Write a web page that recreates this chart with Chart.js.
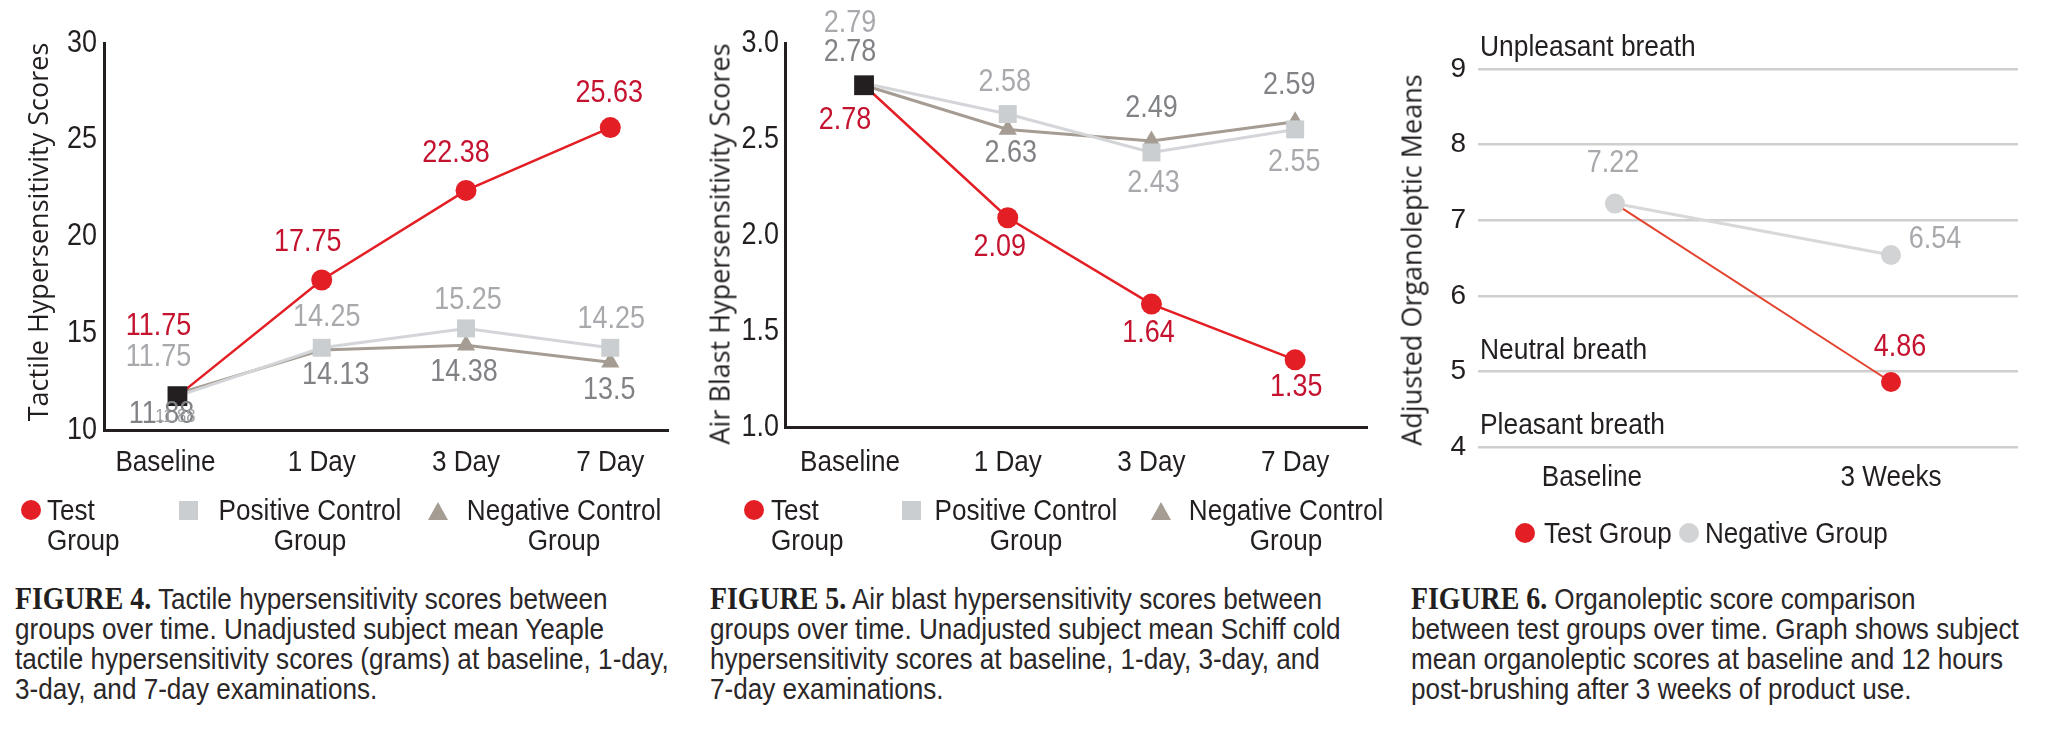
<!DOCTYPE html>
<html>
<head>
<meta charset="utf-8">
<title>Figures 4-6</title>
<script src="https://cdn.jsdelivr.net/npm/chart.js@4.4.1/dist/chart.umd.min.js"></script>
<style>
  html, body { margin:0; padding:0; background:#ffffff; }
  body { width:2048px; height:737px; position:relative; overflow:hidden; color:#231f20;
         font-family:"Liberation Sans", Arial, sans-serif; }
  canvas { position:absolute; top:0; }
  .n { transform:scaleX(0.87); transform-origin:0 0; white-space:nowrap; }
  .lg { position:absolute; top:495px; font-size:30px; line-height:30px; white-space:nowrap; color:#231f20;
        transform:scaleX(0.87); transform-origin:0 0; }
  .lg.c { text-align:center; transform:translateX(-50%) scaleX(0.87); transform-origin:50% 0; }
  .mk { position:absolute; }
  .cap { position:absolute; top:583px; font-size:30px; line-height:30px; color:#2b2728; }
  .cap .n { display:block; }
  .cap b { font-family:"Liberation Serif", serif; font-weight:700; font-size:32px; color:#231f20; }
  .yt { position:absolute; font-family:"Open Sans","Noto Sans",sans-serif; font-size:27px; line-height:1;
        white-space:nowrap; color:#231f20; transform:translate(-50%,-50%) rotate(-90deg); }
</style>
</head>
<body>
<canvas id="fig4" width="690" height="500" style="left:0px"></canvas>
<canvas id="fig5" width="700" height="500" style="left:690px"></canvas>
<canvas id="fig6" width="658" height="500" style="left:1390px"></canvas>

<!-- Axis titles -->
<div class="yt" style="left:37px;top:232px">Tactile Hypersensitivity Scores</div>
<div class="yt" style="left:719px;top:244px">Air Blast Hypersensitivity Scores</div>
<div class="yt" style="left:1411px;top:260px">Adjusted Organoleptic Means</div>

<!-- Figure 4 legend -->
<div class="mk" style="left:21px;top:500px;width:20px;height:20px;border-radius:50%;background:#e31e24"></div>
<div class="lg" style="left:47px">Test<br>Group</div>
<div class="mk" style="left:179px;top:501px;width:19px;height:19px;background:#cbced1"></div>
<div class="lg c" style="left:310px">Positive Control<br>Group</div>
<svg class="mk" style="left:428px;top:502px" width="20" height="18"><polygon points="10,0 20,18 0,18" fill="#a59c93"/></svg>
<div class="lg c" style="left:564px">Negative Control<br>Group</div>

<!-- Figure 5 legend -->
<div class="mk" style="left:744px;top:500px;width:20px;height:20px;border-radius:50%;background:#e31e24"></div>
<div class="lg" style="left:771px">Test<br>Group</div>
<div class="mk" style="left:902px;top:501px;width:19px;height:19px;background:#cbced1"></div>
<div class="lg c" style="left:1026px">Positive Control<br>Group</div>
<svg class="mk" style="left:1151px;top:502px" width="20" height="18"><polygon points="10,0 20,18 0,18" fill="#a59c93"/></svg>
<div class="lg c" style="left:1286px">Negative Control<br>Group</div>

<!-- Figure 6 legend -->
<div class="mk" style="left:1515px;top:523px;width:20px;height:20px;border-radius:50%;background:#e31e24"></div>
<div class="lg" style="left:1544px;top:518px">Test Group</div>
<div class="mk" style="left:1679px;top:523px;width:20px;height:20px;border-radius:50%;background:#d1d3d4"></div>
<div class="lg" style="left:1705px;top:518px">Negative Group</div>

<!-- Captions -->
<div class="cap" style="left:15px">
  <div class="n"><b>FIGURE 4.</b> Tactile hypersensitivity scores between</div>
  <div class="n">groups over time. Unadjusted subject mean Yeaple</div>
  <div class="n">tactile hypersensitivity scores (grams) at baseline, 1-day,</div>
  <div class="n">3-day, and 7-day examinations.</div>
</div>
<div class="cap" style="left:710px">
  <div class="n"><b>FIGURE 5.</b> Air blast hypersensitivity scores between</div>
  <div class="n">groups over time. Unadjusted subject mean Schiff cold</div>
  <div class="n">hypersensitivity scores at baseline, 1-day, 3-day, and</div>
  <div class="n">7-day examinations.</div>
</div>
<div class="cap" style="left:1411px">
  <div class="n"><b>FIGURE 6.</b> Organoleptic score comparison</div>
  <div class="n">between test groups over time. Graph shows subject</div>
  <div class="n">mean organoleptic scores at baseline and 12 hours</div>
  <div class="n">post-brushing after 3 weeks of product use.</div>
</div>

<script>
// ---------------- Data ----------------
// Figure 4: tactile hypersensitivity
const fig4Categories = ['Baseline', '1 Day', '3 Day', '7 Day'];
const fig4Test     = [11.75, 17.75, 22.38, 25.63];
const fig4Positive = [11.75, 14.25, 15.25, 14.25];
const fig4Negative = [11.88, 14.13, 14.38, 13.5];
const fig4YTicks   = [10, 15, 20, 25, 30];

// Figure 5: air blast hypersensitivity (printed labels exactly as shown in the figure)
const fig5Categories = ['Baseline', '1 Day', '3 Day', '7 Day'];
const fig5Test     = [2.78, 2.09, 1.64, 1.35];
const fig5Positive = [2.79, 2.63, 2.43, 2.55];
const fig5Negative = [2.78, 2.55, 2.49, 2.59];
const fig5TestLabels     = ['2.78', '2.09', '1.64', '1.35'];
const fig5PositiveLabels = ['2.79', '2.58', '2.43', '2.55'];
const fig5NegativeLabels = ['2.78', '2.63', '2.49', '2.59'];
const fig5YTicks   = [1.0, 1.5, 2.0, 2.5, 3.0];

// Figure 6: organoleptic means
const fig6Categories = ['Baseline', '3 Weeks'];
const fig6Test     = [7.22, 4.86];
const fig6Negative = [7.22, 6.54];
const fig6YTicks   = [4, 5, 6, 7, 8, 9];
const fig6BandTexts  = ['Unpleasant breath', 'Neutral breath', 'Pleasant breath'];
const fig6BandValues = [9, 5, 4];

// ---------------- Styles ----------------
const FN = '"Liberation Sans", Arial, sans-serif';
const SX = 0.87;                      // horizontal condensing of the figure typeface
const INK = '#231f20';
const RED = '#e31e24', RED_TXT = '#c4122f';
const POS = '#cbced1', POS_LINE = '#d3d5d8', POS_TXT = '#a7a9ac';
const NEG = '#a59c93', NEG_TXT = '#808285';
const BASE_MARK = '#231f20';

Chart.defaults.color = INK;
Chart.defaults.font.family = FN;

const fmt = v => String(v);
const xy = arr => arr.map((v, i) => ({ x: i, y: v }));

function drawNarrow(ctx, text, x, y, align, size, color, sx) {
  ctx.save();
  ctx.translate(x, y);
  ctx.scale(sx || SX, 1);
  ctx.font = size + 'px ' + FN;
  ctx.fillStyle = color;
  ctx.textAlign = align;
  ctx.textBaseline = 'middle';
  ctx.fillText(text, 0, 0);
  ctx.restore();
}

// ---------------- Plugins ----------------
const pointLabels = {
  id: 'pointLabels',
  afterDatasetsDraw(chart, args, opts) {
    (opts.sets || []).forEach(set => {
      const meta = chart.getDatasetMeta(set.dataset);
      set.texts.forEach((t, i) => {
        const el = meta.data[i];
        if (!el || t == null) return;
        const o = set.offsets[i];
        drawNarrow(chart.ctx, t, el.x + o[0], el.y + o[1], 'center', set.size || 31, set.color);
      });
    });
  }
};

const narrowTicks = {
  id: 'narrowTicks',
  afterDraw(chart, args, opts) {
    const ctx = chart.ctx;
    if (opts.x) {
      const sc = chart.scales.x;
      opts.x.labels.forEach((lab, i) => {
        const shift = (opts.x.shift && opts.x.shift[i]) || 0;
        drawNarrow(ctx, lab, sc.getPixelForValue(i) + shift, sc.top + opts.x.dy, 'center', opts.x.size, INK);
      });
    }
    if (opts.y) {
      const sc = chart.scales.y;
      sc.ticks.forEach(t => {
        drawNarrow(ctx, opts.y.format(t.value), sc.right - opts.y.pad, sc.getPixelForValue(t.value), 'right', opts.y.size, INK);
      });
    }
  }
};

const bandLabels = {
  id: 'bandLabels',
  afterDraw(chart, args, opts) {
    if (!opts.texts) return;
    const ys = chart.scales.y;
    opts.texts.forEach((t, i) => {
      drawNarrow(chart.ctx, t, chart.chartArea.left + 2, ys.getPixelForValue(opts.values[i]) + opts.dy, 'left', opts.size, INK, 0.88);
    });
  }
};

function common(pad) {
  return {
    responsive: false, animation: false, devicePixelRatio: 1,
    layout: { padding: pad },
    elements: { line: { tension: 0 } },
    events: []
  };
}

function lineSets(test, pos, neg) {
  return [
    { data: xy(test), borderColor: RED, borderWidth: 2.5, clip: false,
      pointStyle: ['rect', 'circle', 'circle', 'circle'], pointRadius: [14, 10.5, 10.5, 10.5],
      pointBackgroundColor: [BASE_MARK, RED, RED, RED], pointBorderWidth: 0 },
    { data: xy(pos), borderColor: POS_LINE, borderWidth: 3, clip: false,
      pointStyle: 'rect', pointRadius: [0, 12.7, 12.7, 12.7], pointBackgroundColor: POS, pointBorderWidth: 0 },
    { data: xy(neg), borderColor: NEG, borderWidth: 3, clip: false,
      pointStyle: 'triangle', pointRadius: [0, 10.5, 10.5, 10.5], pointBackgroundColor: NEG, pointBorderWidth: 0 }
  ];
}

function axisPair(xMin, xMax, nCats, yMin, yMax, yTicks, yWidth, xHeight) {
  return {
    x: { type: 'linear', min: xMin, max: xMax,
         afterBuildTicks(s) { s.ticks = Array.from({ length: nCats }, (_, i) => ({ value: i })); },
         grid: { display: false, drawTicks: false },
         border: { display: true, color: INK, width: 3 },
         ticks: { display: false },
         afterFit(s) { s.height = xHeight; } },
    y: { type: 'linear', min: yMin, max: yMax,
         afterBuildTicks(s) { s.ticks = yTicks.map(v => ({ value: v })); },
         grid: { display: false, drawTicks: false },
         border: { display: true, color: INK, width: 3 },
         ticks: { display: false },
         afterFit(s) { s.width = yWidth; } }
  };
}

// ---------------- Figure 4 ----------------
new Chart(document.getElementById('fig4'), {
  type: 'line',
  data: { datasets: lineSets(fig4Test, fig4Positive, fig4Negative) },
  options: Object.assign(common({ left: 0, top: 43, right: 22, bottom: 0 }), {
    plugins: {
      legend: { display: false }, tooltip: { enabled: false },
      pointLabels: { sets: [
        { dataset: 0, color: RED_TXT, texts: fig4Test.map(fmt), offsets: [[-19, -70], [-14, -38], [-10, -37], [-1, -34]] },
        { dataset: 1, color: POS_TXT, texts: fig4Positive.map(fmt), offsets: [[-19, -39], [5, -30], [2, -28], [1, -28]] },
        { dataset: 2, color: NEG_TXT, texts: fig4Negative.map(fmt), offsets: [[-16, 21], [14, 25], [-2, 27], [-1, 28]] },
        { dataset: 2, color: '#9d9fa2', size: 19, texts: [fmt(fig4Negative[0]), null, null, null], offsets: [[-2, 23]] }
      ] },
      narrowTicks: {
        x: { labels: fig4Categories, dy: 33, size: 30, shift: [-12, 0, 0, 0] },
        y: { format: v => String(v), pad: 7, size: 31 }
      }
    },
    scales: axisPair(-0.509, 3.40, fig4Categories.length, 10, 30, fig4YTicks, 104, 70)
  }),
  plugins: [pointLabels, narrowTicks]
});

// ---------------- Figure 5 ----------------
new Chart(document.getElementById('fig5'), {
  type: 'line',
  data: { datasets: lineSets(fig5Test, fig5Positive, fig5Negative) },
  options: Object.assign(common({ left: 0, top: 43, right: 23, bottom: 0 }), {
    plugins: {
      legend: { display: false }, tooltip: { enabled: false },
      pointLabels: { sets: [
        { dataset: 0, color: RED_TXT, texts: fig5TestLabels, offsets: [[-19, 35], [-8, 30], [-3, 29], [1, 28]] },
        { dataset: 1, color: POS_TXT, texts: fig5PositiveLabels, offsets: [[-14, -60], [-3, -32], [2, 31], [-1, 33]] },
        { dataset: 2, color: NEG_TXT, texts: fig5NegativeLabels, offsets: [[-14, -33], [3, 24], [0, -32], [-6, -36]] }
      ] },
      narrowTicks: {
        x: { labels: fig5Categories, dy: 36, size: 30, shift: [-14, 0, 0, 0] },
        y: { format: v => Number(v).toFixed(1), pad: 6, size: 31 }
      }
    },
    scales: axisPair(-0.55, 3.50, fig5Categories.length, 1, 3, fig5YTicks, 95, 73)
  }),
  plugins: [pointLabels, narrowTicks]
});

// ---------------- Figure 6 ----------------
new Chart(document.getElementById('fig6'), {
  type: 'line',
  data: {
    datasets: [
      { data: xy(fig6Negative), borderColor: '#d6d8da', borderWidth: 3, clip: false,
        pointStyle: 'circle', pointRadius: 10, pointBackgroundColor: '#d1d3d4', pointBorderWidth: 0 },
      { data: xy(fig6Test), borderColor: '#e3432f', borderWidth: 2, clip: false,
        pointStyle: 'circle', pointRadius: [0, 10], pointBackgroundColor: RED, pointBorderWidth: 0 }
    ]
  },
  options: Object.assign(common({ left: 0, top: 69, right: 30, bottom: 0 }), {
    plugins: {
      legend: { display: false }, tooltip: { enabled: false },
      pointLabels: { sets: [
        { dataset: 0, color: POS_TXT, texts: fig6Negative.map(fmt), offsets: [[-2, -40], [44, -16]] },
        { dataset: 1, color: RED_TXT, texts: [null, fmt(fig6Test[1])], offsets: [[0, 0], [9, -35]] }
      ] },
      bandLabels: { texts: fig6BandTexts, values: fig6BandValues, dy: -21, size: 30 },
      narrowTicks: { x: { labels: fig6Categories, dy: 31, size: 30, shift: [-23, 0] } }
    },
    scales: {
      x: { type: 'linear', min: -0.496, max: 1.46,
           afterBuildTicks(s) { s.ticks = fig6Categories.map((_, i) => ({ value: i })); },
           grid: { display: false, drawTicks: false },
           border: { display: false },
           ticks: { display: false },
           afterFit(s) { s.height = 53; } },
      y: { type: 'linear', min: 4, max: 9,
           afterBuildTicks(s) { s.ticks = fig6YTicks.map(v => ({ value: v })); },
           grid: { display: true, drawTicks: false, color: '#cfcfcf', lineWidth: 2.5 },
           border: { display: false },
           ticks: { font: { family: FN, size: 28 }, color: INK, padding: 12 },
           afterFit(s) { s.width = 88; } }
    }
  }),
  plugins: [pointLabels, bandLabels, narrowTicks]
});
</script>
</body>
</html>
